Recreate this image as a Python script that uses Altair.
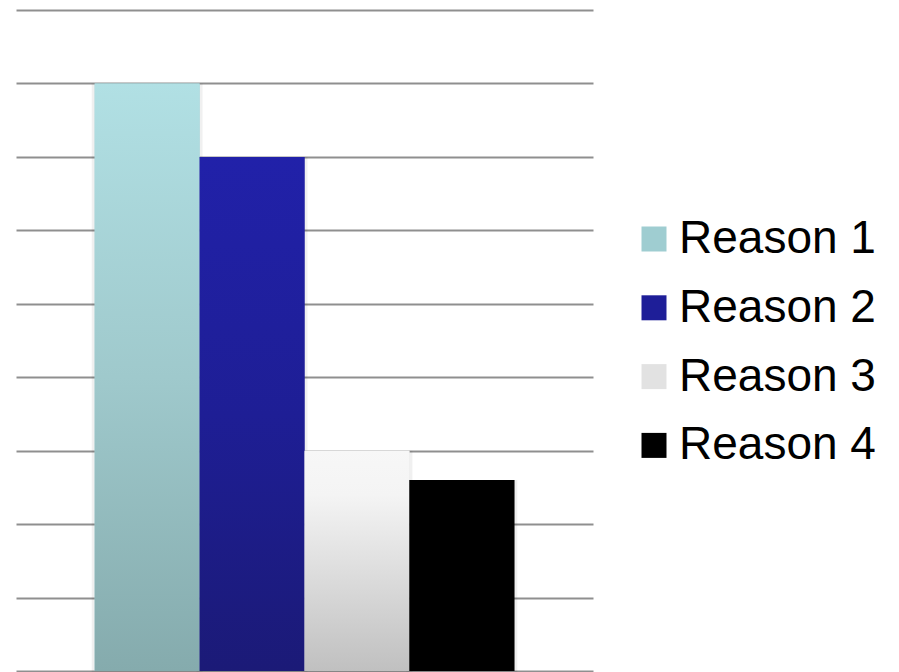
import altair as alt
import pandas as pd

reasons = ["Reason 1", "Reason 2", "Reason 3", "Reason 4"]
values = [8, 7, 3, 2.6]
legend_colors = ["#9fcdd1", "#1e1e98", "#e2e2e2", "#000000"]
grad_top = ["#b1e0e4", "#2121a9", "#f7f7f7", "#000000"]
grad_mid = ["#9fc9cc", "#1e1e95", "#f4f4f4", "#000000"]
grad_bottom = ["#85abad", "#1b1a77", "#c0c0c0", "#000000"]
grad_mid_offset = [0.5, 0.5, 0.2, 0.5]
grid_values = list(range(0, 10))

df = pd.DataFrame({"reason": reasons, "value": values})

x_enc = alt.X("reason:N", sort=reasons, axis=None,
              scale=alt.Scale(paddingInner=0, paddingOuter=0.75))
y_enc = alt.Y("value:Q",
              scale=alt.Scale(domain=[0, 9], nice=False),
              axis=alt.Axis(values=grid_values, labels=False, ticks=False,
                            domain=False, title=None, grid=True,
                            gridColor="#8f8f8f", gridWidth=2))

base = alt.Chart(df)

shadow = base.mark_bar(fillOpacity=0, stroke="#000000", strokeOpacity=0.06,
                       strokeWidth=6, yOffset=3).encode(x=x_enc, y=y_enc)

solid = base.mark_bar().encode(
    x=x_enc, y=y_enc,
    color=alt.Color("reason:N", sort=reasons,
                    scale=alt.Scale(domain=reasons, range=legend_colors),
                    legend=alt.Legend(title=None, orient="none",
                                      legendX=615, legendY=206,
                                      symbolType="square", symbolSize=625,
                                      symbolStrokeWidth=0,
                                      labelFont="Liberation Sans",
                                      labelFontSize=46, labelColor="#000000",
                                      labelOffset=2, rowPadding=22.8,
                                      labelLimit=400, padding=0)),
)

grad_layers = []
for i, r in enumerate(reasons):
    g = alt.Gradient(
        gradient="linear", x1=0, x2=0, y1=0, y2=1,
        stops=[alt.GradientStop(color=grad_top[i], offset=0),
               alt.GradientStop(color=grad_mid[i], offset=grad_mid_offset[i]),
               alt.GradientStop(color=grad_bottom[i], offset=1)])
    grad_layers.append(
        base.transform_filter(alt.datum.reason == r)
        .mark_bar(color=g).encode(x=x_enc, y=y_enc)
    )

chart = alt.layer(shadow, solid, *grad_layers).properties(
    width=577, height=661,
    background="#ffffff",
    autosize=alt.AutoSizeParams(type="none"),
    padding={"left": 16, "top": 10, "right": 306, "bottom": 1},
).configure_view(strokeOpacity=0, strokeWidth=0)

chart.save("out.html", embed_options={"renderer": "svg", "actions": False})
